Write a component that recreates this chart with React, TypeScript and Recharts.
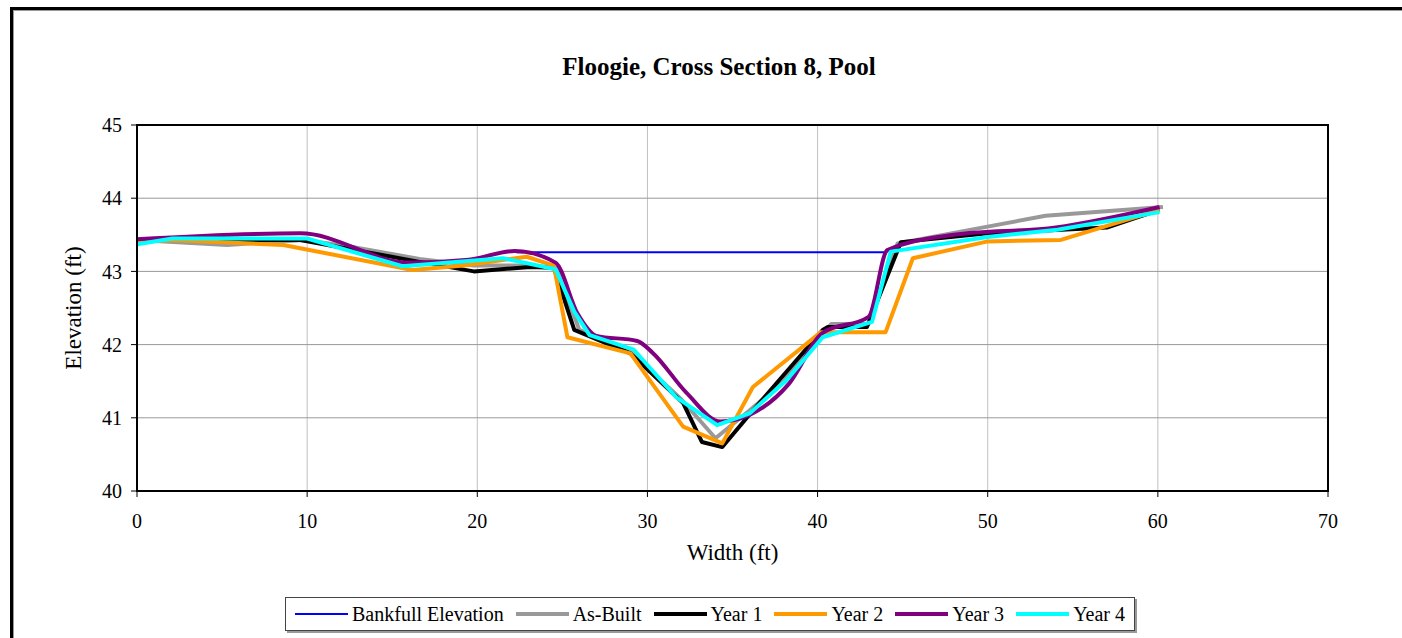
import React from "react";
import {
  LineChart,
  Line,
  XAxis,
  YAxis,
  CartesianGrid,
  ReferenceArea,
  Label,
} from "recharts";

// station (ft) / elevation (ft) per survey
const bankfullX = [22.3, 44.0];
const bankfullY = [43.26, 43.26];

const asBuiltX = [0, 5.3, 9.8, 12.5, 16.6, 19.8, 23.0, 24.6, 25.2, 26.0, 29.0, 32.0, 34.0, 36.0, 38.0, 40.3, 40.8, 43.0, 44.7, 48.8, 53.4, 60.3];
const asBuiltY = [43.43, 43.36, 43.43, 43.34, 43.17, 43.08, 43.08, 43.05, 42.7, 42.2, 41.9, 41.25, 40.72, 41.1, 41.5, 42.15, 42.28, 42.28, 43.38, 43.56, 43.76, 43.88];

const year1X = [0, 9.6, 16.6, 19.8, 23.1, 24.5, 25.7, 29.0, 32.1, 33.2, 34.4, 36.2, 40.3, 40.6, 42.9, 44.9, 50.0, 57.0, 60.1];
const year1Y = [43.43, 43.43, 43.13, 43.0, 43.06, 43.05, 42.2, 41.88, 41.2, 40.67, 40.6, 41.1, 42.2, 42.24, 42.24, 43.4, 43.52, 43.6, 43.84];

const year2X = [0, 2.1, 8.6, 16.2, 19.2, 22.9, 24.5, 25.3, 29.0, 32.1, 34.4, 36.2, 40.2, 44.0, 45.6, 50.0, 54.3, 60.1];
const year2Y = [43.4, 43.43, 43.36, 43.02, 43.08, 43.2, 43.08, 42.1, 41.88, 40.88, 40.65, 41.42, 42.17, 42.17, 43.18, 43.41, 43.43, 43.84];

const year3X = [0, 9.6, 16.0, 19.5, 22.2, 24.6, 25.9, 27.0, 29.4, 30.3, 32.3, 34.3, 36.0, 38.3, 40.3, 43.0, 44.1, 48.0, 54.0, 60.1];
const year3Y = [43.44, 43.52, 43.12, 43.16, 43.28, 43.12, 42.42, 42.12, 42.05, 41.89, 41.34, 40.95, 41.04, 41.46, 42.16, 42.38, 43.29, 43.5, 43.6, 43.88];

const year4X = [0, 2.1, 10.0, 15.6, 21.5, 24.6, 25.7, 26.6, 29.2, 31.7, 34.1, 36.0, 38.2, 40.3, 43.2, 44.3, 50.0, 54.1, 60.1];
const year4Y = [43.37, 43.45, 43.45, 43.07, 43.18, 43.03, 42.45, 42.13, 41.93, 41.28, 40.9, 41.06, 41.52, 42.1, 42.31, 43.27, 43.47, 43.57, 43.81];

const xTicks = [0, 10, 20, 30, 40, 50, 60, 70];
const yTicks = [40, 41, 42, 43, 44, 45];

const toPoints = (xs: number[], ys: number[]) => xs.map((x, i) => ({ x, y: ys[i] }));

const series = [
  { name: "Bankfull Elevation", color: "#0000ff", width: 2, data: toPoints(bankfullX, bankfullY), smooth: false },
  { name: "As-Built", color: "#999999", width: 4, data: toPoints(asBuiltX, asBuiltY), smooth: false },
  { name: "Year 1", color: "#000000", width: 4, data: toPoints(year1X, year1Y), smooth: false },
  { name: "Year 2", color: "#ff9900", width: 4, data: toPoints(year2X, year2Y), smooth: false },
  { name: "Year 3", color: "#800080", width: 4, data: toPoints(year3X, year3Y), smooth: true },
  { name: "Year 4", color: "#00ffff", width: 4, data: toPoints(year4X, year4Y), smooth: false },
];

const font = "'Liberation Serif', 'Times New Roman', serif";

export default function App() {
  return (
    <div
      style={{
        position: "absolute",
        left: 0,
        top: 0,
        width: 1402,
        height: 638,
        overflow: "hidden",
        background: "#fff",
        fontFamily: font,
      }}
    >
      {/* outer chart frame */}
      <div
        style={{
          position: "absolute",
          left: 10,
          top: 7,
          width: 1500,
          height: 800,
          borderTop: "3px solid #000",
          borderLeft: "3px solid #000",
          boxShadow: "inset 1px 1px 0 #999",
        }}
      />
      <div
        style={{
          position: "absolute",
          left: 0,
          width: 1438,
          top: 53,
          textAlign: "center",
          fontFamily: font,
          fontWeight: 700,
          fontSize: 25,
          color: "#000",
        }}
      >
        Floogie, Cross Section 8, Pool
      </div>

      <div style={{ position: "absolute", left: 0, top: 0 }}>
        <LineChart
          width={1402}
          height={590}
          margin={{ top: 125, right: 74, bottom: 69, left: 77 }}
        >
          <CartesianGrid horizontal={false} stroke="#c0c0c0" strokeWidth={1} />
          <CartesianGrid vertical={false} stroke="#999999" strokeWidth={1} />
          <XAxis
            type="number"
            dataKey="x"
            domain={[0, 70]}
            ticks={xTicks}
            allowDataOverflow
            axisLine={{ stroke: "#000", strokeWidth: 2 }}
            tickLine={{ stroke: "#000" }}
            tickSize={6}
            tickMargin={17}
            tick={{ fill: "#000", fontSize: 20, fontFamily: font }}
            height={30}
          >
            <Label
              value="Width (ft)"
              position="insideBottom"
              offset={-39}
              style={{ fill: "#000", fontSize: 23, fontFamily: font }}
            />
          </XAxis>
          <YAxis
            type="number"
            dataKey="y"
            domain={[40, 45]}
            ticks={yTicks}
            allowDataOverflow
            axisLine={{ stroke: "#000", strokeWidth: 2 }}
            tickLine={{ stroke: "#000" }}
            tickSize={6}
            tickMargin={9}
            tick={{ fill: "#000", fontSize: 20, fontFamily: font }}
            width={60}
          >
            <Label
              value="Elevation (ft)"
              angle={-90}
              position="insideLeft"
              offset={-4}
              style={{ fill: "#000", fontSize: 23, fontFamily: font, textAnchor: "middle" }}
            />
          </YAxis>
          <ReferenceArea x1={0} x2={70} y1={40} y2={45} fill="none" stroke="#000" strokeWidth={2} />
          {series.map((s) => (
            <Line
              key={s.name}
              data={s.data}
              dataKey="y"
              name={s.name}
              type={s.smooth ? "monotone" : "linear"}
              stroke={s.color}
              strokeWidth={s.width}
              strokeLinejoin="round"
              dot={false}
              activeDot={false}
              isAnimationActive={false}
            />
          ))}
        </LineChart>
      </div>

      {/* legend */}
      <div
        style={{
          position: "absolute",
          left: 285,
          top: 597,
          width: 850,
          height: 34,
          border: "1px solid #444",
          boxShadow: "2px 2px 0 #999",
          display: "flex",
          alignItems: "center",
          paddingLeft: 9,
          boxSizing: "border-box",
          fontSize: 20,
          color: "#000",
          whiteSpace: "nowrap",
        }}
      >
        {series.map((s) => (
          <div key={s.name} style={{ display: "flex", alignItems: "center", marginRight: 12 }}>
            <div
              style={{
                width: 53,
                height: s.width,
                background: s.color,
                marginRight: 4,
              }}
            />
            <span>{s.name}</span>
          </div>
        ))}
      </div>
    </div>
  );
}
